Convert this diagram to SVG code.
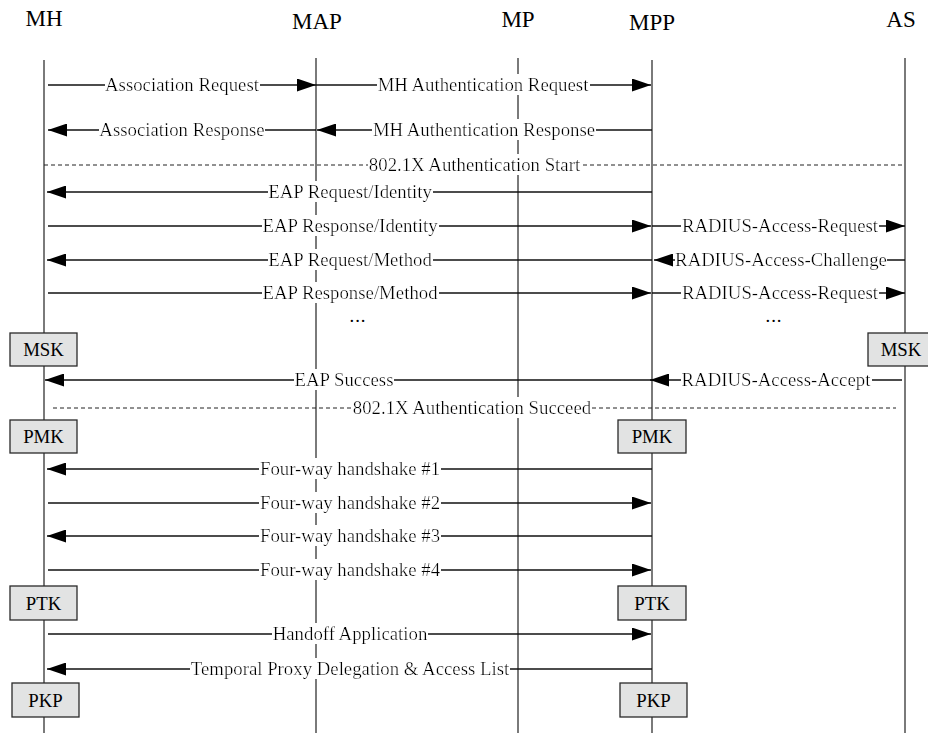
<svg xmlns="http://www.w3.org/2000/svg" width="928" height="733" viewBox="0 0 928 733">
<style>
.hdr{font-family:"Liberation Serif","Times New Roman",serif;font-size:23px;fill:#000;text-anchor:middle}
.lbl{font-family:"Liberation Serif","Times New Roman",serif;font-size:18.8px;fill:#000;text-anchor:middle}
.life{stroke:#7a7a7a;stroke-width:2;fill:none}
.msg{stroke:#111;stroke-width:1.3;fill:none;marker-end:url(#ah)}
.dash{stroke:#222;stroke-width:1;stroke-dasharray:4,3;fill:none}
.box{fill:#e2e3e3;stroke:#2a2a2a;stroke-width:1.3}
.bg{filter:url(#bg)}
</style>
<defs>
<marker id="ah" markerUnits="userSpaceOnUse" markerWidth="19" markerHeight="13" refX="19" refY="6.5" orient="auto">
<path d="M0,0 L19,6.5 L0,13 z" fill="#000"/>
</marker>
<filter id="bg" x="0" y="0" width="1" height="1">
<feFlood flood-color="#ffffff"/>
<feComposite in="SourceGraphic" operator="over"/>
</filter>
</defs>
<rect width="928" height="733" fill="#fff"/>

<g id="lifelines">
<g id="MH"><text class="hdr" x="44" y="26">MH</text><line class="life" x1="44" y1="60" x2="44" y2="733"/></g>
<g id="MAP"><text class="hdr" x="317" y="29">MAP</text><line class="life" x1="316" y1="58" x2="316" y2="733"/></g>
<g id="MP"><text class="hdr" x="518" y="27">MP</text><line class="life" x1="518" y1="58" x2="518" y2="733"/></g>
<g id="MPP"><text class="hdr" x="652" y="30">MPP</text><line class="life" x1="652" y1="60" x2="652" y2="733"/></g>
<g id="AS"><text class="hdr" x="901" y="27">AS</text><line class="life" x1="905" y1="58" x2="905" y2="733"/></g>
</g>

<g id="connectors">
<line class="msg" x1="48" y1="85" x2="316" y2="85"/>
<text class="lbl bg" x="182" y="91">Association Request</text>
<line class="msg" x1="316" y1="85" x2="651" y2="85"/>
<text class="lbl bg" x="483" y="91">MH Authentication Request</text>

<line class="msg" x1="316" y1="130" x2="48" y2="130"/>
<text class="lbl bg" x="182" y="136">Association Response</text>
<line class="msg" x1="652" y1="130" x2="317" y2="130"/>
<text class="lbl bg" x="484" y="136">MH Authentication Response</text>

<line class="dash" x1="44" y1="165" x2="905" y2="165"/>
<text class="lbl bg" x="474.5" y="171">802.1X Authentication Start</text>

<line class="msg" x1="652" y1="192" x2="47" y2="192"/>
<text class="lbl bg" x="350" y="198">EAP Request/Identity</text>

<line class="msg" x1="48" y1="226" x2="651" y2="226"/>
<text class="lbl bg" x="350" y="232">EAP Response/Identity</text>
<line class="msg" x1="652" y1="226" x2="905" y2="226"/>
<text class="lbl bg" x="780" y="232">RADIUS-Access-Request</text>

<line class="msg" x1="652" y1="260" x2="47" y2="260"/>
<text class="lbl bg" x="350" y="266">EAP Request/Method</text>
<line class="msg" x1="905" y1="260" x2="654" y2="260"/>
<text class="lbl bg" x="781" y="266">RADIUS-Access-Challenge</text>

<line class="msg" x1="48" y1="293" x2="651" y2="293"/>
<text class="lbl bg" x="350" y="299">EAP Response/Method</text>
<line class="msg" x1="652" y1="293" x2="905" y2="293"/>
<text class="lbl bg" x="780" y="299">RADIUS-Access-Request</text>

<text class="lbl" x="358" y="322" letter-spacing="1">...</text>
<text class="lbl" x="774" y="322" letter-spacing="1">...</text>

<line class="msg" x1="652" y1="380" x2="45" y2="380"/>
<text class="lbl bg" x="344" y="386">EAP Success</text>
<line class="msg" x1="902" y1="380" x2="650" y2="380"/>
<text class="lbl bg" x="776" y="386">RADIUS-Access-Accept</text>

<line class="dash" x1="53" y1="408" x2="896" y2="408"/>
<text class="lbl bg" x="472" y="414">802.1X Authentication Succeed</text>

<line class="msg" x1="652" y1="469" x2="47" y2="469"/>
<text class="lbl bg" x="350" y="475">Four-way handshake #1</text>
<line class="msg" x1="48" y1="503" x2="651" y2="503"/>
<text class="lbl bg" x="350" y="509">Four-way handshake #2</text>
<line class="msg" x1="652" y1="536" x2="47" y2="536"/>
<text class="lbl bg" x="350" y="542">Four-way handshake #3</text>
<line class="msg" x1="48" y1="570" x2="651" y2="570"/>
<text class="lbl bg" x="350" y="576">Four-way handshake #4</text>

<line class="msg" x1="48" y1="634" x2="651" y2="634"/>
<text class="lbl bg" x="350" y="640">Handoff Application</text>
<line class="msg" x1="652" y1="669" x2="47" y2="669"/>
<text class="lbl bg" x="350" y="675">Temporal Proxy Delegation &amp; Access List</text>
</g>

<g id="MSK-MH"><rect class="box" x="10" y="333" width="67" height="33"/><text class="lbl" x="43.5" y="356">MSK</text></g>
<g id="MSK-AS"><rect class="box" x="868" y="333" width="67" height="33"/><text class="lbl" x="901" y="356">MSK</text></g>
<g id="PMK-MH"><rect class="box" x="10" y="420" width="67" height="33"/><text class="lbl" x="43.5" y="443">PMK</text></g>
<g id="PMK-MPP"><rect class="box" x="618" y="420" width="68" height="33"/><text class="lbl" x="652" y="443">PMK</text></g>
<g id="PTK-MH"><rect class="box" x="10" y="586" width="67" height="34"/><text class="lbl" x="43.5" y="609.5">PTK</text></g>
<g id="PTK-MPP"><rect class="box" x="618" y="586" width="68" height="34"/><text class="lbl" x="652" y="609.5">PTK</text></g>
<g id="PKP-MH"><rect class="box" x="12" y="683" width="67" height="34"/><text class="lbl" x="45.5" y="706.5">PKP</text></g>
<g id="PKP-MPP"><rect class="box" x="620" y="683" width="67" height="34"/><text class="lbl" x="653.5" y="706.5">PKP</text></g>
</svg>
